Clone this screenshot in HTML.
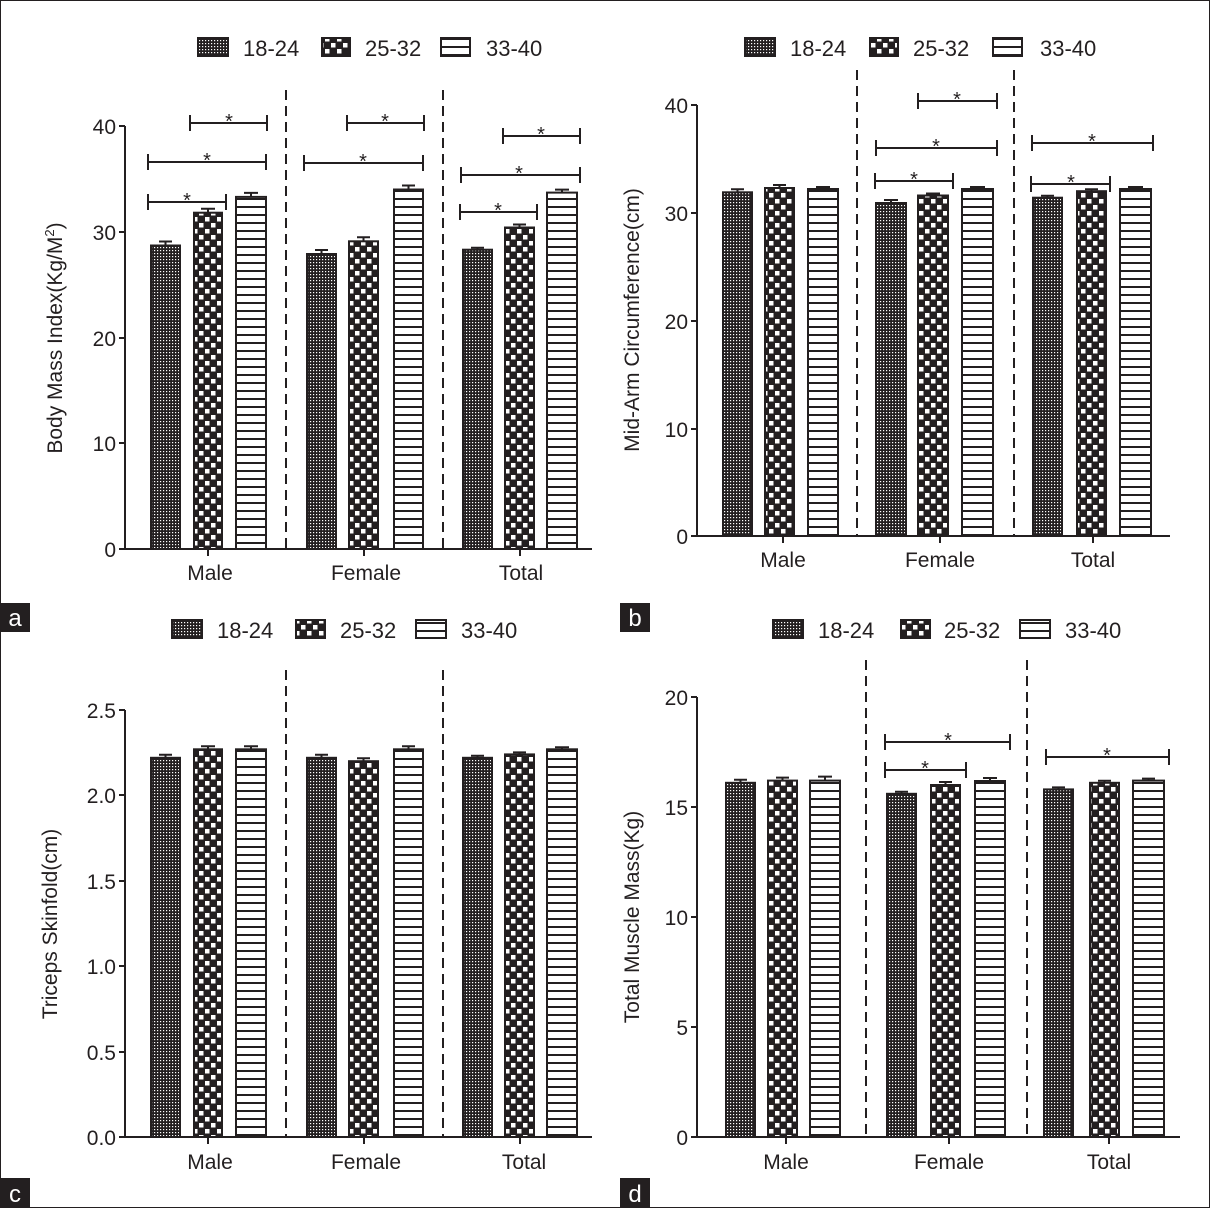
<!DOCTYPE html>
<html><head><meta charset="utf-8"><style>
html,body{margin:0;padding:0;background:#fff}
svg{display:block}
text{font-family:"Liberation Sans",Arial,sans-serif;fill:#231f20}
</style></head><body>
<svg width="1210" height="1208" viewBox="0 0 1210 1208" xmlns="http://www.w3.org/2000/svg">
<defs>
<pattern id="p1" width="3" height="3" patternUnits="userSpaceOnUse"><rect width="3" height="3" fill="#231f20"/><rect x="1" y="1" width="1.2" height="1.2" fill="#fff"/></pattern>
<pattern id="p2" width="12" height="12" patternUnits="userSpaceOnUse"><rect width="12" height="12" fill="#231f20"/><rect x="1" y="1" width="4.5" height="4.5" fill="#fff"/><rect x="7" y="7" width="4.5" height="4.5" fill="#fff"/></pattern>
<pattern id="p3" width="8" height="8" patternUnits="userSpaceOnUse"><rect width="8" height="8" fill="#fff"/><rect y="6" width="8" height="2" fill="#231f20"/></pattern>
</defs>
<rect x="0.5" y="0.5" width="1209" height="1207" fill="none" stroke="#231f20" stroke-width="1"/>

<g stroke="#231f20" stroke-width="2" fill="none">
<path d="M125 126V549H592"/>
<path d="M119 126H125M119 232H125M119 338H125M119 443H125M119 549H125"/>
<path d="M208 549v7M364 549v7M520 549v7"/>
<path d="M286 90V549M443 90V549" stroke-dasharray="10,6"/>
<rect x="151" y="245.5" width="29" height="303.5" fill="url(#p1)"/>
<rect x="194" y="212.7" width="28" height="336.3" fill="url(#p2)"/>
<rect x="236" y="196.9" width="30" height="352.1" fill="url(#p3)"/>
<rect x="307" y="254" width="29" height="295" fill="url(#p1)"/>
<rect x="349" y="241.3" width="29" height="307.7" fill="url(#p2)"/>
<rect x="394" y="189.5" width="29" height="359.5" fill="url(#p3)"/>
<rect x="463" y="249.7" width="29" height="299.3" fill="url(#p1)"/>
<rect x="505" y="227.5" width="29" height="321.5" fill="url(#p2)"/>
<rect x="547" y="192.6" width="30" height="356.4" fill="url(#p3)"/>
<path d="M165.5 245.5v-4M159 241.5h13M208 212.7v-4M201 208.7h14M251 196.9v-4M244 192.9h14M321.5 254v-4M315 250h13M363.5 241.3v-4M357 237.3h13M408.5 189.5v-4M402 185.5h13M477.5 249.7v-2M471 247.7h13M519.5 227.5v-3M513 224.5h13M562 192.6v-3M555 189.6h14"/>
<path d="M190 123H267M190 115v16M267 115v16M148 162H266M148 154v16M266 154v16M148 202H226M148 194v16M226 194v16"/>
<path d="M347 123H424M347 115v16M424 115v16M304 163H423M304 155v16M423 155v16"/>
<path d="M503 136H580M503 128v16M580 128v16M461 175H580M461 167v16M580 167v16M460 212H537M460 204v16M537 204v16"/>

<path d="M697 105V536H1170"/>
<path d="M691 105H697M691 213H697M691 321H697M691 429H697M691 536H697"/>
<path d="M783 536v7M940 536v7M1093 536v7"/>
<path d="M857 70V536M1014 70V536" stroke-dasharray="10,6"/>
<rect x="723" y="192.3" width="29" height="343.7" fill="url(#p1)"/>
<rect x="765" y="188" width="29" height="348" fill="url(#p2)"/>
<rect x="808" y="189" width="30" height="347" fill="url(#p3)"/>
<rect x="876" y="203" width="30" height="333" fill="url(#p1)"/>
<rect x="918" y="195.5" width="30" height="340.5" fill="url(#p2)"/>
<rect x="962" y="189" width="31" height="347" fill="url(#p3)"/>
<rect x="1033" y="197.7" width="29" height="338.3" fill="url(#p1)"/>
<rect x="1077" y="191.2" width="29" height="344.8" fill="url(#p2)"/>
<rect x="1120" y="189" width="31" height="347" fill="url(#p3)"/>
<path d="M737.5 192.3v-3M731 189.3h13M779.5 188v-3M773 185h13M823 189v-2M816 187h14M891 203v-3M884 200h14M933 195.5v-2M926 193.5h14M977.5 189v-2M970 187h15M1047.5 197.7v-2M1041 195.7h13M1091.5 191.2v-2M1085 189.2h13M1135.5 189v-2M1128 187h15"/>
<path d="M918 101H997M918 93v16M997 93v16M876 148H997M876 140v16M997 140v16M875 181H953M875 173v16M953 173v16"/>
<path d="M1032 143H1153M1032 135v16M1153 135v16M1031 184H1110M1031 176v16M1110 176v16"/>

<path d="M125 710V1137H592"/>
<path d="M119 710H125M119 795H125M119 881H125M119 966H125M119 1052H125M119 1137H125"/>
<path d="M208 1137v7M364 1137v7M520 1137v7"/>
<path d="M286 670V1137M443 670V1137" stroke-dasharray="10,6"/>
<rect x="151" y="757.8" width="29" height="379.2" fill="url(#p1)"/>
<rect x="194" y="749.3" width="28" height="387.7" fill="url(#p2)"/>
<rect x="236" y="749.3" width="30" height="387.7" fill="url(#p3)"/>
<rect x="307" y="757.8" width="29" height="379.2" fill="url(#p1)"/>
<rect x="349" y="761.2" width="29" height="375.8" fill="url(#p2)"/>
<rect x="394" y="749.3" width="29" height="387.7" fill="url(#p3)"/>
<rect x="463" y="757.8" width="29" height="379.2" fill="url(#p1)"/>
<rect x="505" y="754.4" width="29" height="382.6" fill="url(#p2)"/>
<rect x="547" y="749.3" width="30" height="387.7" fill="url(#p3)"/>
<path d="M165.5 757.8v-3M159 754.8h13M208 749.3v-3M201 746.3h14M251 749.3v-3M244 746.3h14M321.5 757.8v-3M315 754.8h13M363.5 761.2v-3M357 758.2h13M408.5 749.3v-3M402 746.3h13M477.5 757.8v-2M471 755.8h13M519.5 754.4v-2M513 752.4h13M562 749.3v-2M555 747.3h14"/>

<path d="M697 697V1137H1180"/>
<path d="M691 697H697M691 807H697M691 917H697M691 1027H697M691 1137H697"/>
<path d="M786 1137v7M949 1137v7M1109 1137v7"/>
<path d="M866 660V1137M1027 660V1137" stroke-dasharray="10,6"/>
<rect x="726" y="782.8" width="29" height="354.2" fill="url(#p1)"/>
<rect x="768" y="780.6" width="29" height="356.4" fill="url(#p2)"/>
<rect x="810" y="780.6" width="30" height="356.4" fill="url(#p3)"/>
<rect x="887" y="793.8" width="29" height="343.2" fill="url(#p1)"/>
<rect x="931" y="785" width="29" height="352" fill="url(#p2)"/>
<rect x="975" y="781" width="30" height="356" fill="url(#p3)"/>
<rect x="1044" y="789.4" width="29" height="347.6" fill="url(#p1)"/>
<rect x="1090" y="782.8" width="29" height="354.2" fill="url(#p2)"/>
<rect x="1133" y="780.6" width="31" height="356.4" fill="url(#p3)"/>
<path d="M740.5 782.8v-3M734 779.8h13M782.5 780.6v-3M776 777.6h13M825 780.6v-4M818 776.6h14M901.5 793.8v-2M895 791.8h13M945.5 785v-3M939 782h13M990 781v-3M983 778h14M1058.5 789.4v-2M1052 787.4h13M1104.5 782.8v-2M1098 780.8h13M1148.5 780.6v-2M1142 778.6h13"/>
<path d="M885 742H1010M885 734v16M1010 734v16M885 770H966M885 762v16M966 762v16M1046 757H1169M1046 749v16M1169 749v16"/>

<rect x="198" y="38" width="30" height="18" fill="url(#p1)"/><rect x="322" y="38" width="28" height="18" fill="url(#p2)"/><rect x="441" y="38" width="29" height="18" fill="url(#p3)"/>
<rect x="745" y="38" width="30" height="18" fill="url(#p1)"/><rect x="870" y="38" width="28" height="18" fill="url(#p2)"/><rect x="993" y="38" width="29" height="18" fill="url(#p3)"/>
<rect x="172" y="620" width="30" height="18" fill="url(#p1)"/><rect x="296" y="620" width="29" height="18" fill="url(#p2)"/><rect x="416" y="620" width="30" height="18" fill="url(#p3)"/>
<rect x="773" y="620" width="30" height="18" fill="url(#p1)"/><rect x="901" y="620" width="29" height="18" fill="url(#p2)"/><rect x="1020" y="620" width="30" height="18" fill="url(#p3)"/>
</g>

<g font-size="20" text-anchor="middle">
<text x="229" y="128">*</text><text x="207" y="167">*</text><text x="187" y="207">*</text>
<text x="385" y="128">*</text><text x="363" y="168">*</text>
<text x="541" y="141">*</text><text x="519" y="180">*</text><text x="498" y="217">*</text>
<text x="957" y="106">*</text><text x="936" y="153">*</text><text x="914" y="186">*</text>
<text x="1092" y="148">*</text><text x="1071" y="189">*</text>
<text x="948" y="747">*</text><text x="925" y="775">*</text><text x="1107" y="762">*</text>
</g>

<g font-size="22">
<text x="243" y="56">18-24</text><text x="365" y="56">25-32</text><text x="486" y="56">33-40</text>
<text x="790" y="56">18-24</text><text x="913" y="56">25-32</text><text x="1040" y="56">33-40</text>
<text x="217" y="638">18-24</text><text x="340" y="638">25-32</text><text x="461" y="638">33-40</text>
<text x="818" y="638">18-24</text><text x="944" y="638">25-32</text><text x="1065" y="638">33-40</text>
</g>

<g font-size="21" text-anchor="end">
<text x="116" y="134">40</text><text x="116" y="240">30</text><text x="116" y="346">20</text><text x="116" y="451">10</text><text x="116" y="557">0</text>
<text x="688" y="113">40</text><text x="688" y="221">30</text><text x="688" y="329">20</text><text x="688" y="437">10</text><text x="688" y="544">0</text>
<text x="116" y="718">2.5</text><text x="116" y="803">2.0</text><text x="116" y="889">1.5</text><text x="116" y="974">1.0</text><text x="116" y="1060">0.5</text><text x="116" y="1145">0.0</text>
<text x="688" y="705">20</text><text x="688" y="815">15</text><text x="688" y="925">10</text><text x="688" y="1035">5</text><text x="688" y="1145">0</text>
</g>
<g font-size="21" text-anchor="middle">
<text x="210" y="580">Male</text><text x="366" y="580">Female</text><text x="521" y="580">Total</text>
<text x="783" y="567">Male</text><text x="940" y="567">Female</text><text x="1093" y="567">Total</text>
<text x="210" y="1169">Male</text><text x="366" y="1169">Female</text><text x="524" y="1169">Total</text>
<text x="786" y="1169">Male</text><text x="949" y="1169">Female</text><text x="1109" y="1169">Total</text>
</g>
<g font-size="21" text-anchor="middle">
<text transform="translate(62,338) rotate(-90)">Body Mass Index(Kg/M<tspan font-size="13" dy="-8">2</tspan><tspan dy="8">)</tspan></text>
<text transform="translate(639,320) rotate(-90)">Mid-Arm Circumference(cm)</text>
<text transform="translate(57,924) rotate(-90)">Triceps Skinfold(cm)</text>
<text transform="translate(639,917) rotate(-90)">Total Muscle Mass(Kg)</text>
</g>

<rect x="0" y="603" width="30" height="29" fill="#231f20"/><text x="15" y="626" font-size="24" text-anchor="middle" style="fill:#fff">a</text>
<rect x="620" y="603" width="30" height="29" fill="#231f20"/><text x="635" y="626" font-size="24" text-anchor="middle" style="fill:#fff">b</text>
<rect x="0" y="1178" width="30" height="30" fill="#231f20"/><text x="15" y="1202" font-size="24" text-anchor="middle" style="fill:#fff">c</text>
<rect x="620" y="1178" width="30" height="30" fill="#231f20"/><text x="635" y="1202" font-size="24" text-anchor="middle" style="fill:#fff">d</text>
</svg>
</body></html>
